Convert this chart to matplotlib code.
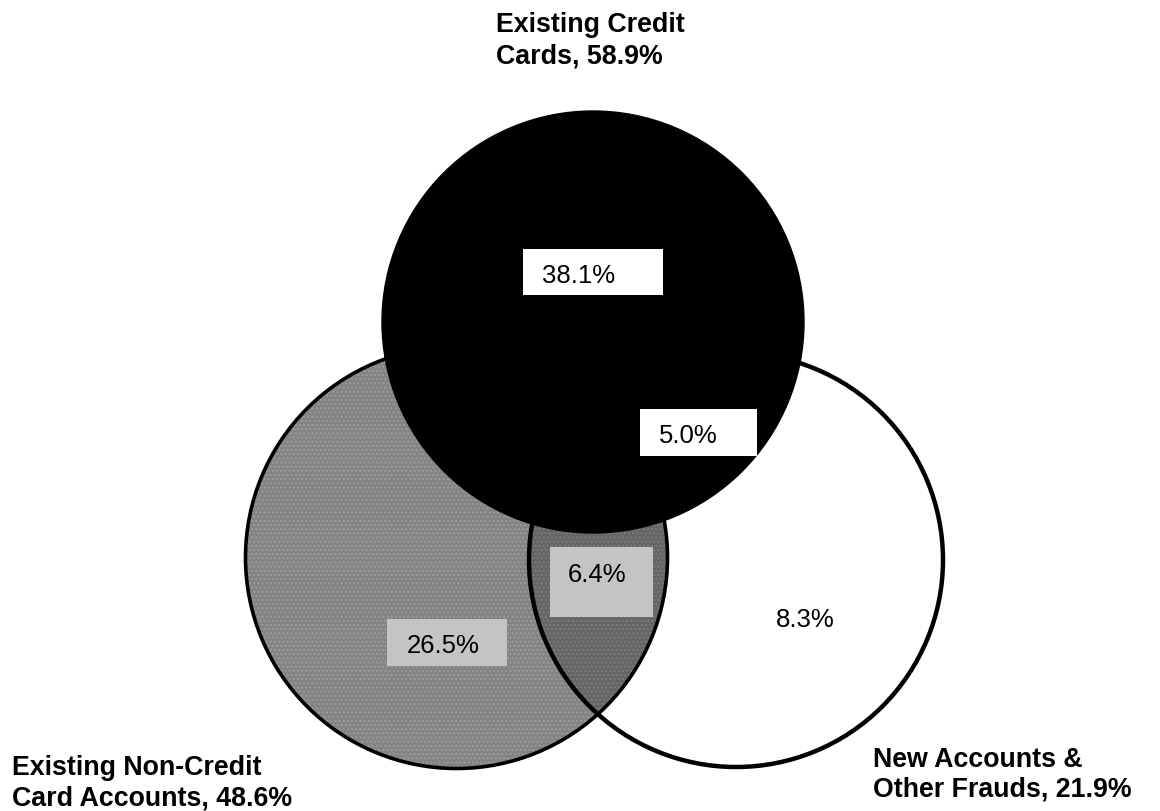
import matplotlib
matplotlib.use("Agg")
import matplotlib.pyplot as plt
from matplotlib.patches import Circle, Rectangle

# Fraud categories and their shares (percent)
set_names = ["Existing Credit\nCards", "Existing Non-Credit\nCard Accounts", "New Accounts &\nOther Frauds"]
set_totals = [58.9, 48.6, 21.9]
region_values = [38.1, 5.0, 6.4, 26.5, 8.3]

plt.rcParams["font.family"] = ["Liberation Sans", "DejaVu Sans"]
plt.rcParams["hatch.linewidth"] = 1.0

W, H = 1160, 812
fig = plt.figure(figsize=(W / 100, H / 100), dpi=100)
ax = fig.add_axes([0, 0, 1, 1])
ax.set_xlim(0, W)
ax.set_ylim(H, 0)
ax.axis("off")

# circle geometry (pixel space)
c_credit = (593, 323)
c_noncredit = (456.5, 558.5)
c_new = (736, 561)
R = 211

gray = "#838383"
gray_dark = "#656565"

# New accounts circle: white fill
new_fill = Circle(c_new, 207, facecolor="white", edgecolor="none", zorder=1)
ax.add_patch(new_fill)

# Non-credit circle: stippled gray fill
nc_fill = Circle(c_noncredit, R, facecolor=gray, edgecolor="#9c9c9c", hatch="....",
                 lw=0, zorder=2)
ax.add_patch(nc_fill)

# darker overlap of non-credit and new accounts
overlap = Circle(c_new, 207, facecolor=gray_dark, edgecolor="#7c7c7c", hatch="....",
                 lw=0, zorder=3)
ax.add_patch(overlap)
overlap.set_clip_path(nc_fill)

# outlines
ax.add_patch(Circle(c_new, 207, facecolor="none", edgecolor="black", lw=3.2, zorder=4))
ax.add_patch(Circle(c_noncredit, R, facecolor="none", edgecolor="black", lw=2.6, zorder=4))

# Existing credit cards circle: solid black on top
ax.add_patch(Circle(c_credit, R, facecolor="black", edgecolor="black", lw=1, zorder=5))

# value label boxes: (x0, y0, x1, y1, color)
boxes = [
    (523, 250, 663, 296, "white"),
    (640, 410, 757, 457, "white"),
    (550, 548, 653, 618, "#c4c4c4"),
    (387, 620, 507, 667, "#c4c4c4"),
    None,
]
# label anchor (center x, baseline y)
anchors = [(578.5, 283), (688.5, 443), (597, 582), (443.5, 653), (805, 627)]

for val, box, (tx, ty) in zip(region_values, boxes, anchors):
    if box is not None:
        x0, y0, x1, y1, col = box
        ax.add_patch(Rectangle((x0, y0), x1 - x0, y1 - y0, facecolor=col,
                               edgecolor="none", zorder=6))
    ax.text(tx, ty, f"{val:.1f}%", fontsize=18.5, ha="center", va="baseline",
            color="black", zorder=7)

# category titles: (left x, first baseline, second baseline)
title_pos = [(496, 32, 63), (12, 775, 806), (873, 767, 797)]
for name, total, (x, b1, b2) in zip(set_names, set_totals, title_pos):
    line1, line2 = name.split("\n")
    ax.text(x, b1, line1, fontsize=19.3, fontweight="bold", ha="left", va="baseline", zorder=8)
    ax.text(x, b2, f"{line2}, {total:.1f}%", fontsize=19.3, fontweight="bold",
            ha="left", va="baseline", zorder=8)

fig.savefig("out.png", dpi=100, facecolor="white")
